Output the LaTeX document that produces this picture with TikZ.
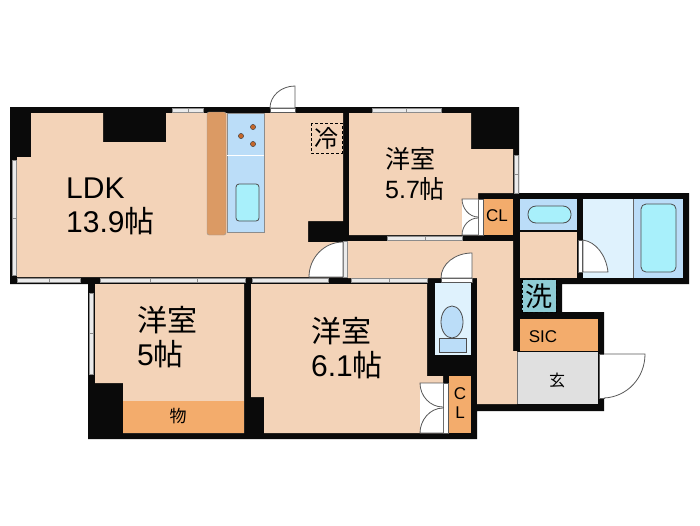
\documentclass[tikz,border=0pt]{standalone}
\usepackage{fontspec}
\setmainfont{Liberation Sans}
\newfontfamily\cjk{Noto Sans CJK JP}
\definecolor{wall}{HTML}{0A0A0A}
\definecolor{floorpeach}{HTML}{F3D3B8}
\definecolor{closet}{HTML}{F3AC6C}
\definecolor{counter}{HTML}{DB9A64}
\definecolor{burner}{HTML}{C4662A}
\definecolor{wet}{HTML}{BBDDF8}
\definecolor{fixture}{HTML}{A8F0FB}
\definecolor{bathfloor}{HTML}{DFF2FD}
\definecolor{entry}{HTML}{E0E0E0}
\tikzset{
  room/.style={fill=floorpeach},
  win/.style={fill=black!8,draw=black!45,line width=0.7pt},
  doorleaf/.style={fill=white,draw=black!65,line width=0.8pt},
  fitting/.style={draw=black!70,line width=0.8pt},
  big/.style={font=\fontsize{30}{34}\selectfont,align=left,inner sep=0pt},
  mid/.style={font=\fontsize{25}{30}\selectfont,align=left,inner sep=0pt},
  small/.style={font=\fontsize{17}{20}\selectfont,align=center,inner sep=0pt}
}
\begin{document}
\begin{tikzpicture}[x=1pt,y=-1pt]
  \useasboundingbox (0,0) rectangle (700,525);
  % walls
  \fill[wall] (10,107) -- (519,107) -- (519,193) -- (689,193) -- (689,284) -- (562,284)
    -- (562,312) -- (604,312) -- (604,411) -- (477,411) -- (477,439) -- (88,439)
    -- (88,284) -- (10,284) -- cycle;
  % rooms
  \fill[room] (31,113) -- (103,113) -- (103,142) -- (166,142) -- (166,113) -- (343,113)
    -- (343,221) -- (308,221) -- (308,242) -- (343,242) -- (343,277) -- (17,277)
    -- (17,157) -- (31,157) -- cycle;
  \fill[room] (349,113) -- (471,113) -- (471,149) -- (513,149) -- (513,193) -- (478,193)
    -- (478,235) -- (349,235) -- cycle;
  \fill[room] (348,241) -- (513,241) -- (513,351) -- (517,351) -- (517,404) -- (477,404)
    -- (477,278) -- (348,278) -- cycle;
  \fill[room] (95,284) -- (244,284) -- (244,433) -- (123,433) -- (123,383) -- (95,383) -- cycle;
  \fill[room] (251,284) -- (427,284) -- (427,376) -- (443,376) -- (443,433) -- (264,433)
    -- (264,397) -- (251,397) -- cycle;
  \fill[room] (520,232) rectangle (577,278);
  % closets
  \fill[closet] (123,401) rectangle (244,433);
  \fill[closet] (484,199) rectangle (513,235);
  \fill[closet] (449,376) rectangle (471,433);
  \fill[closet] (520,319) rectangle (598,351);
  \fill[entry] (517,352) rectangle (598,404);
  \draw[black!55,line width=0.7pt] (517,352) -- (517,404);
  % kitchen
  \draw[fill=counter,draw=black!40,rounded corners=2pt] (207,112) rectangle (226,235);
  \draw[fill=wet,draw=black!45,line width=0.6pt] (227,113) rectangle (264,232);
  \draw[white,line width=0.8pt] (227,155) -- (264,155);
  \draw[fill=burner,draw=black!70,line width=0.5pt] (253,127) circle (2.6);
  \draw[fill=burner,draw=black!70,line width=0.5pt] (241,136) circle (2.6);
  \draw[fill=burner,draw=black!70,line width=0.5pt] (253,144) circle (2.6);
  \draw[fitting,fill=fixture,rounded corners=3pt] (236,184) rectangle (259,221);
  % wash room and bath
  \fill[wet] (520,199) rectangle (577,230);
  \draw[fitting,fill=fixture,rounded corners=8pt] (528,206) rectangle (571,223);
  \fill[wall] (577,199) rectangle (583,278);
  \fill[bathfloor] (583,199) rectangle (633,278);
  \fill[wet] (634,199) rectangle (683,278);
  \draw[black!60,line width=0.7pt] (633.5,199) -- (633.5,278);
  \draw[fitting,fill=fixture,rounded corners=5pt] (641,204) rectangle (676,272);
  % toilet
  \fill[bathfloor] (435,283) rectangle (471,355);
  \draw[fitting,fill=wet] (452,322) ellipse (11 and 16);
  \draw[fitting,fill=wet] (439,338) rectangle (466,352);
  % windows
  \draw[win] (172,108.5) rectangle (188,112);
  \draw[win] (188,108.5) rectangle (203,112);
  \draw[win] (372,108.5) rectangle (406,112);
  \draw[win] (406,108.5) rectangle (441,112);
  \draw[win] (12,160) rectangle (16,218);
  \draw[win] (12,218) rectangle (16,275);
  \draw[win] (17,278.5) rectangle (49,282.5);
  \draw[win] (49,278.5) rectangle (80,282.5);
  \draw[win] (100,278.5) rectangle (150,282.5);
  \draw[win] (150,278.5) rectangle (197,282.5);
  \draw[win] (197,278.5) rectangle (245,282.5);
  \draw[win] (252,278.5) rectangle (328,282.5);
  \draw[win] (351,278.5) rectangle (389,282.5);
  \draw[win] (389,278.5) rectangle (427,282.5);
  \draw[win] (89.5,293) rectangle (93.5,333);
  \draw[win] (89.5,333) rectangle (93.5,374);
  \draw[win] (387,236.5) rectangle (425,240);
  \draw[win] (425,236.5) rectangle (462,240);
  \draw[win] (514.5,155) rectangle (518.5,174);
  \draw[win] (514.5,174) rectangle (518.5,193);
  \draw[win] (343.5,241) rectangle (347.5,277);
  % doors
  \draw[doorleaf] (270,108.5) rectangle (295,112.5);
  \draw[doorleaf] (295,108) -- (295,86) .. controls (281,86) and (270,96) .. (270,108) -- cycle;
  \draw[doorleaf] (343,242) -- (343,277) -- (309,277) .. controls (309,258) and (324,242) .. (343,242);
  \draw[doorleaf] (441,278.5) rectangle (472,282.5);
  \draw[doorleaf] (472,278) -- (472,253) .. controls (455,253) and (441,264) .. (441,278) -- cycle;
  \draw[doorleaf] (478.5,199) rectangle (483,235);
  \fill[white] (462,199) rectangle (478,235);
  \draw[doorleaf] (478,199) -- (462,199) .. controls (462,208) and (469,217) .. (478,217);
  \draw[doorleaf] (478,235) -- (462,235) .. controls (462,226) and (469,218) .. (478,218);
  \draw[doorleaf] (443.5,383) rectangle (448,433);
  \fill[white] (420,383) rectangle (443,433);
  \draw[doorleaf] (443,383) -- (420,383) .. controls (420,396) and (430,407) .. (443,407);
  \draw[doorleaf] (443,433) -- (420,433) .. controls (420,420) and (430,408) .. (443,408);
  \draw[doorleaf] (578.5,240) rectangle (582,272);
  \draw[doorleaf] (583,240) -- (583,272) -- (608,272) .. controls (606,255) and (596,242) .. (583,240);
  \draw[doorleaf] (599,354) rectangle (604,398);
  \draw[doorleaf] (604,354) -- (645,354) .. controls (645,378) and (627,397) .. (604,398);
  % fridge and washer
  \draw[densely dashed,line width=0.9pt,fill=floorpeach] (311,123) rectangle (342,153);
  \draw[densely dashed,line width=0.9pt,fill=fixture!85!black] (522,279.5) rectangle (556,312);
  % labels
  \node[big,anchor=west] (ldk) at (66,206) {LDK\\13.9{\cjk 帖}};
  \node[mid,anchor=west] (roomnw) at (385,174) {{\cjk 洋室}\\5.7{\cjk 帖}};
  \node[big,anchor=west] (roomsw) at (137,337) {{\cjk 洋室}\\5{\cjk 帖}};
  \node[big,anchor=west] (roomse) at (311,348) {{\cjk 洋室}\\6.1{\cjk 帖}};
  \node[small] (clnw) at (497,216) {CL};
  \node[small,font=\fontsize{17}{19}\selectfont] (clse) at (460,403) {C\\L};
  \node[small] (sic) at (543,337) {SIC};
  \node[small,font=\fontsize{17}{17}\selectfont\cjk] (mono) at (178,416) {物};
  \node[small,font=\fontsize{16}{16}\selectfont\cjk] (genkan) at (557,380) {玄};
  \node[small,font=\fontsize{24}{24}\selectfont\cjk] (fridge) at (326,138) {冷};
  \node[small,font=\fontsize{27}{27}\selectfont\cjk] (washer) at (539,296) {洗};
\end{tikzpicture}
\end{document}
